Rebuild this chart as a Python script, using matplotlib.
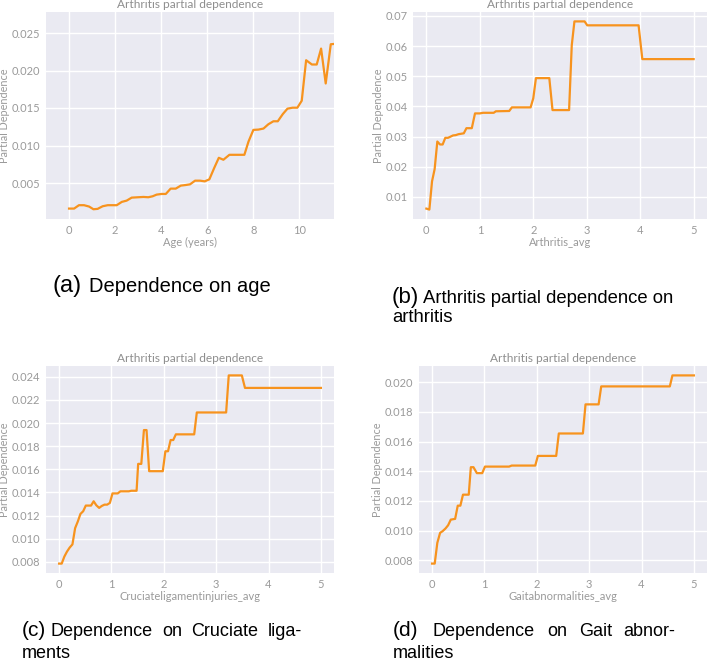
import matplotlib
matplotlib.use("Agg")
import matplotlib.pyplot as plt

# ---- data ----
age_x = [0, 0.22, 0.43, 0.65, 0.87, 1.06, 1.24, 1.46, 1.68, 2.07, 2.29, 2.5, 2.72,
         3.0, 3.23, 3.44, 3.63, 3.8, 4.02, 4.2, 4.41, 4.63, 4.85, 5.06, 5.25, 5.47,
         5.69, 5.89, 6.09, 6.3, 6.5, 6.7, 6.96, 7.61, 7.79, 8.0, 8.22, 8.44, 8.65,
         8.87, 9.06, 9.28, 9.48, 9.7, 9.91, 10.1, 10.29, 10.54, 10.75, 10.94, 11.14,
         11.36, 11.5]
age_y = [0.00159, 0.00159, 0.00204, 0.00204, 0.00186, 0.0015, 0.00155, 0.0019, 0.00204,
         0.00204, 0.00248, 0.00265, 0.00305, 0.0031, 0.00314, 0.0031, 0.00323, 0.00345,
         0.00354, 0.00354, 0.00425, 0.00425, 0.00465, 0.00473, 0.00482, 0.00531, 0.00531,
         0.00522, 0.00549, 0.0070, 0.00836, 0.0081, 0.00876, 0.00876, 0.01053, 0.01208,
         0.01212, 0.01226, 0.01283, 0.01323, 0.01323, 0.0142, 0.01491, 0.01504, 0.01504,
         0.01597, 0.02137, 0.0208, 0.0208, 0.02292, 0.01827, 0.0235, 0.02354]

arth_x = [0, 0.056, 0.106, 0.155, 0.205, 0.255, 0.305, 0.354, 0.404, 0.5, 0.55, 0.6,
          0.7, 0.75, 0.85, 0.91, 1.0, 1.06, 1.26, 1.3, 1.55, 1.6, 1.95, 2.0, 2.05, 2.3,
          2.36, 2.67, 2.72, 2.77, 2.96, 3.01, 3.97, 4.04, 5.0]
arth_y = [0.00614, 0.00581, 0.01517, 0.01925, 0.02838, 0.0274, 0.0274, 0.0296, 0.0296,
          0.0304, 0.0305, 0.0308, 0.0311, 0.0328, 0.0328, 0.0377, 0.0377, 0.0379, 0.0379,
          0.0384, 0.0385, 0.0397, 0.0397, 0.0427, 0.0494, 0.0494, 0.0388, 0.0388, 0.0603,
          0.0682, 0.0682, 0.0669, 0.0669, 0.0557, 0.0557]

cruc_x = [0, 0.05, 0.1, 0.15, 0.2, 0.255, 0.306, 0.357, 0.408, 0.46, 0.51, 0.61, 0.66,
          0.71, 0.765, 0.816, 0.867, 0.918, 0.97, 1.02, 1.12, 1.17, 1.22, 1.33, 1.38,
          1.48, 1.51, 1.57, 1.62, 1.67, 1.72, 1.98, 2.03, 2.08, 2.13, 2.18, 2.23, 2.58,
          2.63, 3.19, 3.24, 3.49, 3.55, 5.0]
cruc_y = [0.00786, 0.00786, 0.00846, 0.00889, 0.00923, 0.00952, 0.01092, 0.01149,
          0.01215, 0.01238, 0.01287, 0.01287, 0.01324, 0.0129, 0.01267, 0.01284, 0.01295,
          0.01295, 0.0131, 0.01392, 0.01392, 0.0141, 0.0141, 0.0141, 0.01415, 0.01415,
          0.01647, 0.01647, 0.01939, 0.01939, 0.01584, 0.01584, 0.01756, 0.01756, 0.01853,
          0.01853, 0.01902, 0.01902, 0.02091, 0.02091, 0.02411, 0.02411, 0.02303, 0.02303]

gait_x = [0, 0.05, 0.1, 0.153, 0.2, 0.255, 0.306, 0.357, 0.44, 0.49, 0.54, 0.59, 0.7,
          0.74, 0.79, 0.855, 0.957, 1.01, 1.47, 1.52, 1.97, 2.02, 2.37, 2.42, 2.88, 2.93,
          3.18, 3.23, 4.54, 4.59, 5.0]
gait_y = [0.00778, 0.00778, 0.00918, 0.00985, 0.00996, 0.01014, 0.01036, 0.01074,
          0.01079, 0.01168, 0.01168, 0.01242, 0.01242, 0.01427, 0.01427, 0.01387, 0.01387,
          0.01431, 0.01431, 0.01438, 0.01438, 0.01503, 0.01503, 0.01654, 0.01654, 0.0185,
          0.0185, 0.01971, 0.01971, 0.02045, 0.02045]

panel_title = "Arthritis partial dependence"
x_labels = ["Age (years)", "Arthritis_avg", "Cruciateligamentinjuries_avg", "Gaitabnormalities_avg"]

W, H = 708, 662
plt.rcParams['font.family'] = ['Lato', 'DejaVu Sans']
cap_font = ['Liberation Sans', 'DejaVu Sans']

fig = plt.figure(figsize=(W / 100, H / 100), dpi=100)
fig.patch.set_facecolor('white')


def px_axes(left, top, right, bottom):
    return fig.add_axes([left / W, 1 - bottom / H, (right - left) / W, (bottom - top) / H])


def style(ax, x, y, xlabel):
    ax.set_facecolor('#EAEAF2')
    for s in ax.spines.values():
        s.set_visible(False)
    ax.grid(True, color='white', linewidth=1.0)
    ax.set_axisbelow(True)
    ax.plot(x, y, color='#F7931E', linewidth=1.6)
    ax.tick_params(length=0, labelsize=8, labelcolor='#9a9a9a', pad=4)
    ax.set_title(panel_title, fontsize=8.6, color='#8e8e8e', pad=3)
    ax.set_xlabel(xlabel, fontsize=8, color='#9a9a9a', labelpad=1)
    ax.set_ylabel("Partial Dependence", fontsize=7.8, color='#9a9a9a', labelpad=1)


ax_a = px_axes(46, 12, 334, 219)
style(ax_a, age_x, age_y, x_labels[0])
ax_a.set_xlim(-1, 11.5)
ax_a.set_ylim(0.0002, 0.0278)
ax_a.set_xticks([0, 2, 4, 6, 8, 10])
ax_a.set_yticks([0.005, 0.010, 0.015, 0.020, 0.025])

ax_b = px_axes(413, 12, 707, 219)
style(ax_b, arth_x, arth_y, x_labels[1])
ax_b.set_xticks([0, 1, 2, 3, 4, 5])
ax_b.set_yticks([0.01, 0.02, 0.03, 0.04, 0.05, 0.06, 0.07])

ax_c = px_axes(46, 366, 334, 573)
style(ax_c, cruc_x, cruc_y, x_labels[2])
ax_c.set_xticks([0, 1, 2, 3, 4, 5])
ax_c.set_yticks([0.008, 0.010, 0.012, 0.014, 0.016, 0.018, 0.020, 0.022, 0.024])

ax_d = px_axes(419, 366, 707, 573)
style(ax_d, gait_x, gait_y, x_labels[3])
ax_d.set_xticks([0, 1, 2, 3, 4, 5])
ax_d.set_yticks([0.008, 0.010, 0.012, 0.014, 0.016, 0.018, 0.020])


def cap(xp, yp, s, size):
    fig.text(xp / W, 1 - yp / H, s, fontsize=size, family=cap_font,
             color='black', va='baseline', ha='left')


# subfigure captions
cap(52, 292, "(a)", 17)
cap(89, 292, "Dependence on age", 14.5)

cap(392, 303, "(b)", 16)
cap(423, 303, "Arthritis partial dependence on", 13.3)
cap(392, 322, "arthritis", 13.3)

# (c) and (d) are justified in the original, so the words are spread over the line
cap(22, 636, "(c)", 15)
cap(51, 636, "Dependence", 13)
cap(162, 636, "on", 13)
cap(191, 636, "Cruciate", 13)
cap(268, 636, "liga-", 13)
cap(22, 658, "ments", 13)

cap(393, 636, "(d)", 15)
cap(433, 636, "Dependence", 13)
cap(547, 636, "on", 13)
cap(579, 636, "Gait", 13)
cap(623, 636, "abnor-", 13)
cap(393, 658, "malities", 13)

fig.savefig("out.png", dpi=100)
